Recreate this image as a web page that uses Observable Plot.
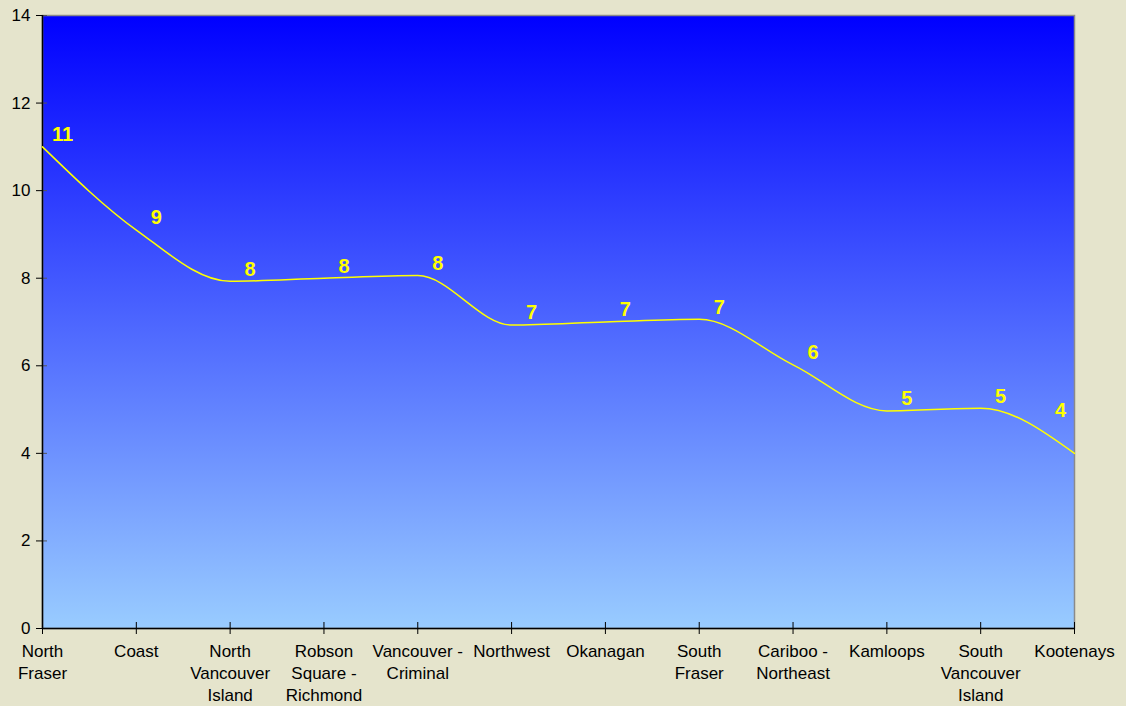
<!DOCTYPE html>
<html>
<head>
<meta charset="utf-8">
<script src="https://cdn.jsdelivr.net/npm/d3@7"></script>
<script src="https://cdn.jsdelivr.net/npm/@observablehq/plot@0.6"></script>
<style>
  html, body { margin: 0; padding: 0; background: #E5E4CC; }
  #chart { width: 1126px; height: 706px; }
</style>
</head>
<body>
<div id="chart"></div>
<script>
const categories = ["North Fraser", "Coast", "North Vancouver Island", "Robson Square - Richmond", "Vancouver - Criminal", "Northwest", "Okanagan", "South Fraser", "Cariboo - Northeast", "Kamloops", "South Vancouver Island", "Kootenays"];
const tickLabels = ["North\nFraser", "Coast", "North\nVancouver\nIsland", "Robson\nSquare -\nRichmond", "Vancouver -\nCriminal", "Northwest", "Okanagan", "South\nFraser", "Cariboo -\nNortheast", "Kamloops", "South\nVancouver\nIsland", "Kootenays"];
const values = [11.0, 9.1, 7.93, 8.0, 8.06, 6.93, 7.0, 7.06, 6.02, 4.97, 5.03, 4.0];
const yTicks = [0, 2, 4, 6, 8, 10, 12, 14];

const data = categories.map((c, i) => ({category: c, value: values[i]}));
const labelMap = new Map(categories.map((c, i) => [c, tickLabels[i]]));
const fmt = d3.format(".0f");
const font = "'Liberation Sans', Arial, sans-serif";

const chart = Plot.plot({
  width: 1126,
  height: 706,
  marginLeft: 42,
  marginRight: 52,
  marginTop: 15,
  marginBottom: 78,
  style: {background: "#E5E4CC", fontFamily: font, fontSize: "17px", color: "#000"},
  x: {type: "point", domain: categories, padding: 0, round: false},
  y: {domain: [0, 14]},
  marks: [
    Plot.frame({fill: "url(#bgGrad)", stroke: "#8a8a8a", strokeWidth: 1.5}),
    Plot.axisY({ticks: yTicks, tickSize: 6, tickPadding: 6, label: null, fontSize: 17, stroke: "#000"}),
    Plot.axisY({ticks: yTicks.filter(d => d > 0), tickSize: -5, text: null, label: null, stroke: "#555"}),
    Plot.axisX({tickSize: 6, tickPadding: 7, label: null, fontSize: 17, lineHeight: 1.29, tickFormat: d => labelMap.get(d), stroke: "#000"}),
    Plot.axisX({tickSize: -6, text: null, label: null, stroke: "#000"}),
    Plot.ruleY([0], {stroke: "#000", strokeWidth: 1.5}),
    Plot.ruleX([categories[0]], {stroke: "#000", strokeWidth: 1.5}),
    Plot.line(data, {x: "category", y: "value", stroke: "#FFFF00", strokeWidth: 1.5, curve: "monotone-x"}),
    Plot.text(data.slice(0, -1), {x: "category", y: "value", text: d => fmt(d.value), fill: "#FFFF00", fontWeight: "bold", fontSize: 20, dx: 20, dy: -12}),
    Plot.text(data.slice(-1), {x: "category", y: "value", text: d => fmt(d.value), fill: "#FFFF00", fontWeight: "bold", fontSize: 20, dx: -14, dy: -43})
  ]
});

// gradient definition for the plot area
const ns = "http://www.w3.org/2000/svg";
const defs = document.createElementNS(ns, "defs");
const grad = document.createElementNS(ns, "linearGradient");
grad.setAttribute("id", "bgGrad");
grad.setAttribute("x1", "0"); grad.setAttribute("y1", "0");
grad.setAttribute("x2", "0"); grad.setAttribute("y2", "1");
[["0%", "#0000FF"], ["100%", "#99CCFF"]].forEach(([o, c]) => {
  const s = document.createElementNS(ns, "stop");
  s.setAttribute("offset", o);
  s.setAttribute("stop-color", c);
  grad.appendChild(s);
});
defs.appendChild(grad);
chart.insertBefore(defs, chart.firstChild);

document.getElementById("chart").appendChild(chart);
</script>
</body>
</html>
